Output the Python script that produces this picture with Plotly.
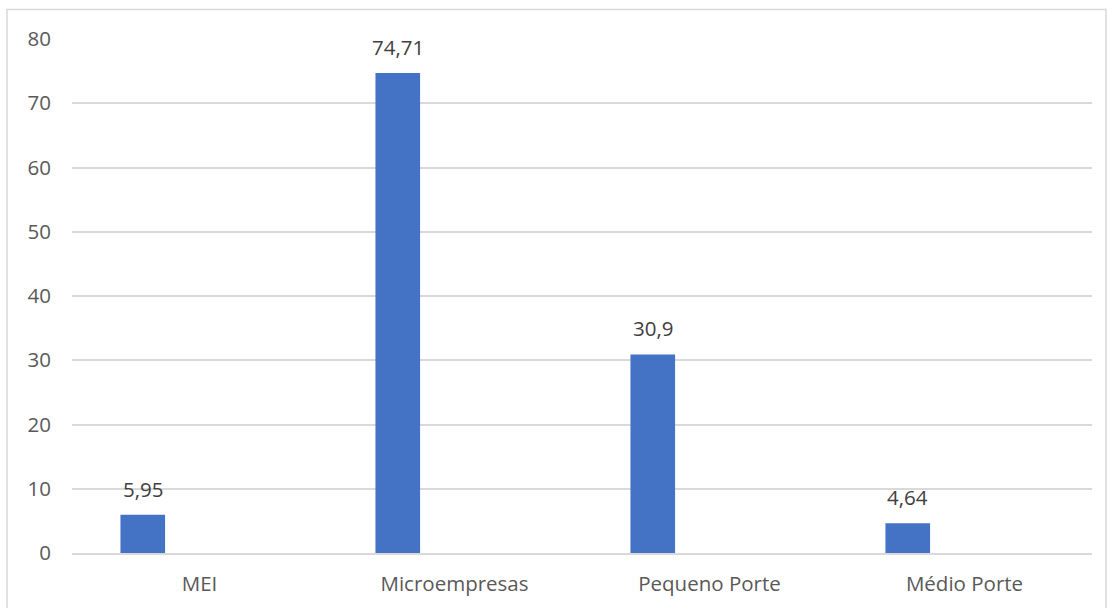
import plotly.graph_objects as go

# Porte das empresas e respectivos percentuais
categorias = ["MEI", "Microempresas", "Pequeno Porte", "Médio Porte"]
valores = [5.95, 74.71, 30.9, 4.64]
ticks_y = [0, 10, 20, 30, 40, 50, 60, 70, 80]

FONT = "Open Sans"
FS = 20.5
AZUL = "#4472c4"

# bar placement inside each category slot (category units)
BAR_W = 0.175
BAR_OFF = -0.31

fig = go.Figure()
fig.add_trace(go.Bar(
    x=categorias,
    y=valores,
    width=BAR_W,
    offset=BAR_OFF,
    marker=dict(color=AZUL, line=dict(width=0)),
    hoverinfo="skip",
))

# value labels above each bar, decimal comma
slot_px = 1020 / len(categorias)
for cat, v in zip(categorias, valores):
    fig.add_annotation(
        x=cat, y=v,
        text=f"{v:g}".replace(".", ","),
        showarrow=False,
        xshift=(BAR_OFF + BAR_W / 2) * slot_px,
        yshift=26,
        yanchor="middle",
        font=dict(family=FONT, size=FS, color="#404040"),
    )

# outer chart frame
fig.add_shape(
    type="rect", xref="paper", yref="paper",
    x0=-0.0637, x1=1.0137, y0=-0.2, y1=1.0574,
    line=dict(color="#d9d9d9", width=1.5),
    fillcolor="rgba(0,0,0,0)",
    layer="below",
)

fig.update_layout(
    width=1107, height=608,
    margin=dict(l=72, r=15, t=39, b=55),
    paper_bgcolor="white",
    plot_bgcolor="white",
    showlegend=False,
    font=dict(family=FONT, size=FS, color="#595959"),
    xaxis=dict(
        type="category",
        showgrid=False,
        showline=True,
        linecolor="#d9d9d9",
        linewidth=1.5,
        ticks="",
        ticklabelstandoff=12,
        tickfont=dict(family=FONT, size=FS, color="#595959"),
        fixedrange=True,
    ),
    yaxis=dict(
        range=[0, 80],
        tickvals=ticks_y,
        showgrid=True,
        gridcolor="#d9d9d9",
        gridwidth=1.5,
        zeroline=False,
        showline=False,
        ticks="",
        ticklabelstandoff=20,
        tickfont=dict(family=FONT, size=FS, color="#595959"),
        fixedrange=True,
    ),
)

fig.write_html("out.html")
